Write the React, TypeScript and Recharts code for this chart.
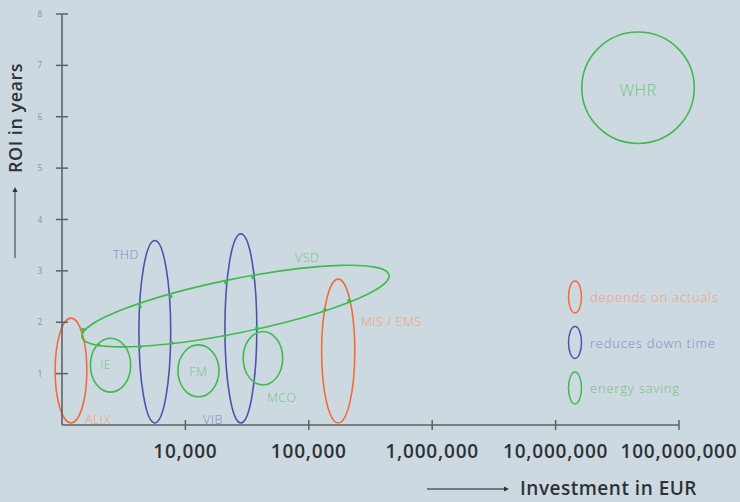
import {
  Legend,
  ReferenceArea,
  ReferenceLine,
  Scatter,
  ScatterChart,
  XAxis,
  YAxis,
} from "recharts";

// legend groups
const groupNames = ["depends on actuals", "reduces down time", "energy saving"];
const groupStroke = ["#f26a3a", "#4c54ad", "#3ebb4f"];
const groupText = ["#f39a74", "#7f87c6", "#6fc47b"];

// measures drawn as ellipses: investment range (EUR) and ROI range (years)
const measureNames = ["ALIX", "IE", "THD", "FM", "VIB", "MCO", "MIS / EMS", "WHR"];
const measureGroup = [0, 2, 1, 2, 1, 2, 0, 2];
const investMin = [880, 1700, 4200, 8700, 20900, 29400, 127000, 16300000];
const investMax = [1590, 3600, 7600, 18700, 37900, 61400, 236000, 133000000];
const roiMin = [0.04, 0.64, 0.04, 0.55, 0.04, 0.78, 0.04, 5.48];
const roiMax = [2.08, 1.69, 3.59, 1.56, 3.72, 1.82, 2.84, 7.65];

// VSD is tilted: ends of its long axis
const vsdEnds = [
  { x: 1450, y: 1.71 },
  { x: 447000, y: 2.92 },
];
const vsdWidthRatio = 0.172;

// small dots where VSD crosses the other ellipses
const crossX = [4290, 7600, 4290, 7740, 21300, 35300, 20900, 38000, 135000, 212000, 1480, 1980];
const crossY = [2.3, 2.5, 1.52, 1.6, 2.77, 2.87, 1.73, 1.89, 2.24, 2.42, 1.86, 1.56];

// text labels
const labelNames = ["ALIX", "THD", "VIB", "VSD", "IE", "FM", "MCO", "MIS / EMS", "WHR"];
const labelGroup = [0, 1, 1, 2, 2, 2, 2, 0, 2];
const labelX = [1535, 2590, 13900, 77300, 2260, 12700, 45800, 265000, 46600000];
const labelY = [0.1, 3.31, 0.1, 3.27, 1.17, 1.04, 0.53, 2.01, 6.52];
const labelCentered = ["IE", "FM", "WHR"];

const xTicks = [10000, 100000, 1000000, 10000000, 100000000];
const xTickLabels = ["10,000", "100,000", "1,000,000", "10,000,000", "100,000,000"];
const yTicks = [1, 2, 3, 4, 5, 6, 7, 8];

const crossData = crossX.map((x, i) => ({ x, y: crossY[i] }));
const labelData = labelNames.map((name, i) => ({
  name,
  x: labelX[i],
  y: labelY[i],
  group: labelGroup[i],
}));

const axisColor = "#5d6266";
const font = "'Open Sans', sans-serif";

function EllipseShape(props: any) {
  const { x, y, width, height, stroke } = props;
  return (
    <ellipse
      cx={x + width / 2}
      cy={y + height / 2}
      rx={Math.abs(width) / 2}
      ry={Math.abs(height) / 2}
      fill="none"
      stroke={stroke}
      strokeWidth={1.6}
    />
  );
}

function TiltedEllipse(props: any) {
  const { x1, y1, x2, y2, stroke } = props;
  const cx = (x1 + x2) / 2;
  const cy = (y1 + y2) / 2;
  const a = Math.hypot(x2 - x1, y2 - y1) / 2;
  const angle = (Math.atan2(y2 - y1, x2 - x1) * 180) / Math.PI;
  return (
    <ellipse
      cx={cx}
      cy={cy}
      rx={a}
      ry={a * vsdWidthRatio}
      transform={`rotate(${angle} ${cx} ${cy})`}
      fill="none"
      stroke={stroke}
      strokeWidth={1.6}
    />
  );
}

function XTick(props: any) {
  const { x, y, payload } = props;
  const idx = xTicks.indexOf(payload.value);
  return (
    <g>
      <line x1={x} x2={x} y1={y - 5} y2={y + 5} stroke={axisColor} strokeWidth={1.5} />
      <text
        x={x}
        y={y + 33}
        textAnchor="middle"
        fontSize={19}
        letterSpacing={0.8}
        fontWeight={600}
        fill="#2e3236"
        fontFamily={font}
      >
        {xTickLabels[idx]}
      </text>
    </g>
  );
}

function YTick(props: any) {
  const { x, y, payload } = props;
  return (
    <g>
      <line x1={x - 6} x2={x + 6} y1={y} y2={y} stroke={axisColor} strokeWidth={1.5} />
      <text
        x={x - 22}
        y={y}
        dy={3}
        textAnchor="middle"
        fontSize={8.5}
        fill="#8a9096"
        fontFamily={font}
      >
        {payload.value}
      </text>
    </g>
  );
}

function XTitle(props: any) {
  const { viewBox } = props;
  const right = viewBox.x + viewBox.width + 18;
  const ty = viewBox.y + 70;
  return (
    <g>
      <line x1={right - 270} x2={right - 190} y1={ty - 6} y2={ty - 6} stroke="#55595d" strokeWidth={1.3} />
      <path d={`M${right - 188} ${ty - 6} l-5 -2.5 v5 z`} fill="#333" />
      <text
        x={right}
        y={ty}
        textAnchor="end"
        fontSize={19}
        letterSpacing={0.5}
        fontWeight={600}
        fill="#2e3236"
        fontFamily={font}
      >
        Investment in EUR
      </text>
    </g>
  );
}

function YTitle(props: any) {
  const { viewBox } = props;
  const lx = viewBox.x + 13;
  const top = viewBox.y;
  return (
    <g>
      <line x1={lx} x2={lx} y1={top + 176} y2={top + 244} stroke="#55595d" strokeWidth={1.3} />
      <path d={`M${lx} ${top + 173} l-2.5 5 h5 z`} fill="#333" />
      <text
        x={lx + 7}
        y={top + 104}
        transform={`rotate(-90 ${lx + 7} ${top + 104})`}
        textAnchor="middle"
        fontSize={18}
        letterSpacing={0.5}
        fontWeight={600}
        fill="#2e3236"
        fontFamily={font}
      >
        ROI in years
      </text>
    </g>
  );
}

function LabelText(props: any) {
  const { cx, cy, payload } = props;
  const centered = labelCentered.includes(payload.name);
  return (
    <text
      x={cx}
      y={cy}
      dominantBaseline="central"
      textAnchor={centered ? "middle" : "start"}
      fontSize={payload.name === "WHR" ? 16 : 12.5}
      letterSpacing={0.5}
      fontWeight={300}
      fill={groupText[payload.group]}
      fontFamily={font}
    >
      {payload.name}
    </text>
  );
}

function GroupLegend() {
  return (
    <svg width={175} height={135}>
      {groupNames.map((name, i) => (
        <g key={name}>
          <ellipse
            cx={12}
            cy={18 + i * 45.5}
            rx={6.5}
            ry={16}
            fill="none"
            stroke={groupStroke[i]}
            strokeWidth={1.5}
          />
          <text
            x={27}
            y={18 + i * 45.5}
            dominantBaseline="central"
            fontSize={13}
            letterSpacing={0.8}
            fontWeight={300}
            fill={groupText[i]}
            fontFamily={font}
          >
            {name}
          </text>
        </g>
      ))}
    </svg>
  );
}

export default function App() {
  return (
    <div
      style={{
        position: "absolute",
        left: 0,
        top: 0,
        width: 740,
        height: 502,
        background: "#cdd9e0",
        fontFamily: font,
      }}
    >
      <ScatterChart width={740} height={502} margin={{ top: 14, right: 61, bottom: 0, left: 2 }}>
        <XAxis
          type="number"
          dataKey="x"
          scale="log"
          domain={[1000, 100000000]}
          ticks={xTicks}
          interval={0}
          allowDataOverflow
          height={77}
          tickSize={0}
          tickMargin={0}
          tick={<XTick />}
          tickLine={false}
          axisLine={{ stroke: axisColor, strokeWidth: 1.6 }}
          label={{ content: (p: any) => <XTitle {...p} /> }}
        />
        <YAxis
          type="number"
          dataKey="y"
          domain={[0, 8]}
          ticks={yTicks}
          interval={0}
          allowDataOverflow
          width={60}
          tickSize={0}
          tickMargin={0}
          tick={<YTick />}
          tickLine={false}
          axisLine={{ stroke: axisColor, strokeWidth: 1.6 }}
          label={{ content: (p: any) => <YTitle {...p} /> }}
        />
        {measureNames.map((name, i) => (
          <ReferenceArea
            key={name}
            x1={investMin[i]}
            x2={investMax[i]}
            y1={roiMin[i]}
            y2={roiMax[i]}
            ifOverflow="visible"
            stroke={groupStroke[measureGroup[i]]}
            fill="none"
            shape={(p: any) => <EllipseShape {...p} />}
          />
        ))}
        <ReferenceLine
          segment={vsdEnds}
          ifOverflow="visible"
          stroke={groupStroke[2]}
          shape={(p: any) => <TiltedEllipse {...p} />}
        />
        <Scatter
          data={crossData}
          isAnimationActive={false}
          fill={groupStroke[2]}
          shape={(p: any) => <circle cx={p.cx} cy={p.cy} r={1.8} fill={groupStroke[2]} />}
        />
        <Scatter
          data={labelData}
          isAnimationActive={false}
          shape={(p: any) => <LabelText {...p} />}
        />
        <Legend
          layout="horizontal"
          align="center"
          verticalAlign="middle"
          content={() => <GroupLegend />}
          wrapperStyle={{ position: "absolute", left: 563, top: 279, width: 175, height: 135 }}
        />
      </ScatterChart>
    </div>
  );
}
